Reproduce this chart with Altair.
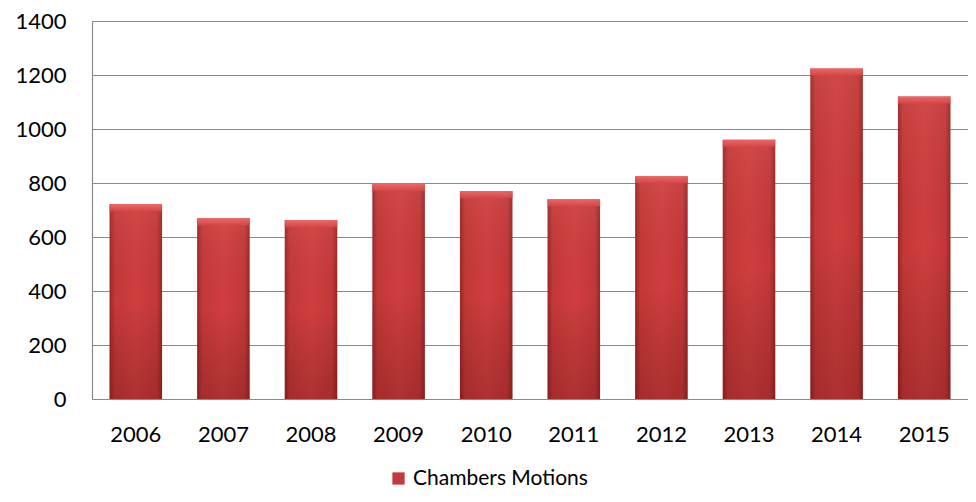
import altair as alt
import pandas as pd

years = ["2006", "2007", "2008", "2009", "2010", "2011", "2012", "2013", "2014", "2015"]
values = [721, 669, 662, 796, 770, 740, 825, 960, 1224, 1120]
series = "Chambers Motions"

df = pd.DataFrame({"year": years, "value": values, "series": [series] * len(years)})

FONT = "Lato"
FS = 22

x = alt.X("year:N", sort=years, title=None,
          scale=alt.Scale(paddingInner=0.4, paddingOuter=0.2),
          axis=alt.Axis(labelAngle=0, labelFont=FONT, labelFontSize=FS, labelColor="#000000",
                        labelPadding=25, tickSize=0, domainColor="#8a8a8a", domainWidth=1.2,
                        grid=False))
y = alt.Y("value:Q", title=None,
          scale=alt.Scale(domain=[0, 1400], nice=False),
          axis=alt.Axis(values=[0, 200, 400, 600, 800, 1000, 1200, 1400], format="d",
                        labelFont=FONT, labelFontSize=FS, labelColor="#000000",
                        labelPadding=26, tickSize=0,
                        domainColor="#8a8a8a", domainWidth=1.2, gridColor="#8a8a8a",
                        gridWidth=1.2, gridOpacity=1))

hgrad = alt.Gradient(gradient="linear", x1=0, x2=1, y1=0, y2=0, stops=[
    alt.GradientStop(offset=0, color="#9a2626"),
    alt.GradientStop(offset=0.1, color="#c43838"),
    alt.GradientStop(offset=0.5, color="#d03e3e"),
    alt.GradientStop(offset=0.9, color="#c43838"),
    alt.GradientStop(offset=1, color="#9a2626"),
])
vgrad = alt.Gradient(gradient="linear", x1=0, x2=0, y1=0, y2=1, stops=[
    alt.GradientStop(offset=0, color="rgba(255,255,255,0.06)"),
    alt.GradientStop(offset=0.5, color="rgba(0,0,0,0.0)"),
    alt.GradientStop(offset=1, color="rgba(60,0,0,0.22)"),
])
topgrad = alt.Gradient(gradient="linear", x1=0, x2=0, y1=0, y2=1, stops=[
    alt.GradientStop(offset=0, color="#ee6a6a"),
    alt.GradientStop(offset=1, color="#d64646"),
])

base = alt.Chart(df)

bars = base.mark_bar(fill=hgrad).encode(
    x=x, y=y,
    color=alt.Color("series:N", title=None,
                    scale=alt.Scale(domain=[series], range=["#c43a3a"]),
                    legend=alt.Legend(orient="none", legendX=296, legendY=447,
                                      direction="horizontal", labelFont=FONT,
                                      labelFontSize=21, labelColor="#000000", labelLimit=0,
                                      symbolType="square", symbolSize=150,
                                      symbolStrokeWidth=0, symbolFillColor="#c43a3a",
                                      symbolOpacity=1, labelOffset=4, padding=0)),
)

shade = base.mark_bar(fill=vgrad).encode(x=x, y=y)

bevel = base.transform_calculate(top2="datum.value - 26").mark_bar(fill=topgrad, opacity=0.9).encode(
    x=x, y=alt.Y("value:Q"), y2="top2:Q")

chart = (bars + shade + bevel).properties(
    width=876, height=378,
    autosize=alt.AutoSizeParams(type="none"),
    padding={"left": 84, "top": 13, "right": 0, "bottom": 95},
).configure_view(stroke=None)

chart.save("out.html", embed_options={"renderer": "svg", "actions": False})
